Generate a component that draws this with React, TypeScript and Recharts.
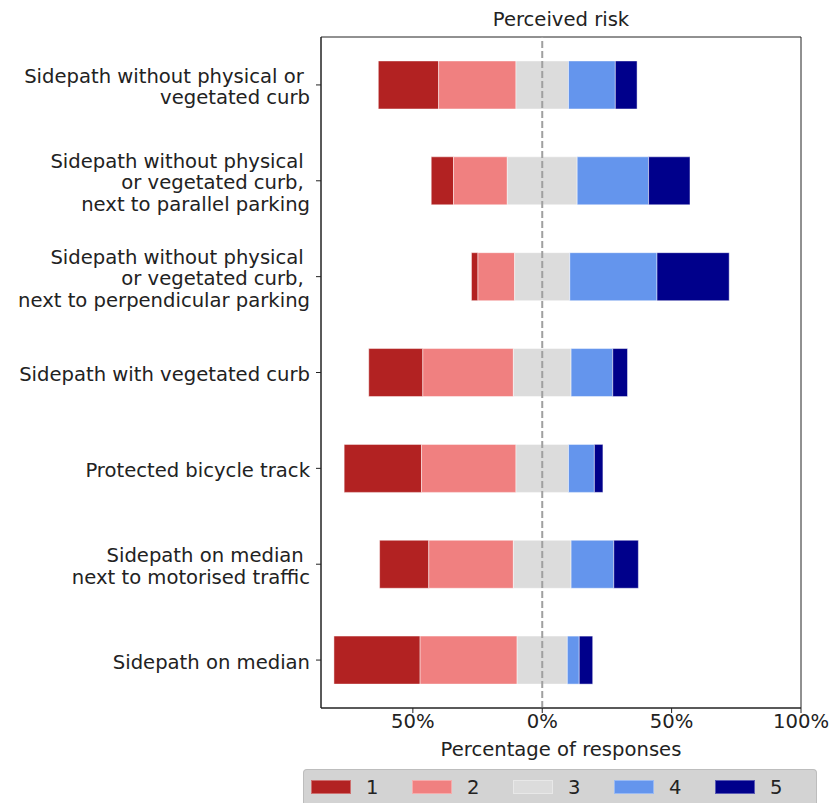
import React from 'react';
import { BarChart, Bar, XAxis, YAxis, ReferenceLine, ReferenceArea, Legend } from 'recharts';

const FONT = '"DejaVu Sans", sans-serif';
const TEXT = '#222222';
const FS = 19.6;

const categories = [
  'Sidepath without physical or \nvegetated curb',
  'Sidepath without physical \nor vegetated curb, \nnext to parallel parking',
  'Sidepath without physical \nor vegetated curb, \nnext to perpendicular parking',
  'Sidepath with vegetated curb',
  'Protected bicycle track',
  'Sidepath on median \nnext to motorised traffic',
  'Sidepath on median',
];

// share of responses per risk level (percent)
const risk1 = [23.3, 8.6, 2.5, 20.9, 29.9, 19.0, 33.3];
const risk2 = [29.9, 20.8, 14.2, 35.0, 36.5, 32.7, 37.5];
const risk3 = [20.3, 27.0, 21.3, 22.3, 20.3, 22.3, 19.4];
const risk4 = [18.1, 27.6, 33.7, 16.1, 10.0, 16.5, 4.6];
const risk5 = [8.4, 16.0, 27.9, 5.7, 3.3, 9.5, 5.2];

const levels = ['1', '2', '3', '4', '5'];
const levelColors = ['#b22222', '#f08080', '#dcdcdc', '#6495ed', '#00008b'];

const xTicks = [-50, 0, 50, 100];
const xDomain = [-85.5, 100];

// neutral answers are split around zero, so each row starts at -(1 + 2 + 3/2)
const rows = categories.map((name, i) => ({
  name,
  offset: -(risk1[i] + risk2[i] + risk3[i] / 2),
  l1: risk1[i],
  l2: risk2[i],
  l3: risk3[i],
  l4: risk4[i],
  l5: risk5[i],
}));

const CategoryTick = (props: any) => {
  const { x, y, payload } = props;
  const lines: string[] = String(payload.value).split('\n');
  const lh = 21.6;
  const first = y + 2 - ((lines.length - 1) * lh) / 2;
  return (
    <text
      x={x}
      y={first}
      textAnchor="end"
      fontSize={FS}
      fontFamily={FONT}
      fill={TEXT}
      style={{ whiteSpace: 'pre' }}
    >
      {lines.map((line, i) => (
        <tspan key={i} x={x} y={first + i * lh} dominantBaseline="central">
          {line}
        </tspan>
      ))}
    </text>
  );
};

const LegendBox = (props: any) => {
  const items = (props.payload || []).filter((p: any) => p.type !== 'none');
  return (
    <div
      style={{
        width: 514,
        height: 34,
        boxSizing: 'border-box',
        background: '#d3d3d3',
        border: '1px solid #bdbdbd',
        borderBottom: 'none',
        borderRadius: '4px 4px 0 0',
        display: 'flex',
        paddingTop: 9,
        paddingLeft: 7,
        fontFamily: FONT,
        fontSize: FS,
        color: TEXT,
      }}
    >
      {items.map((it: any) => (
        <div key={it.value} style={{ width: 107.2, display: 'flex', alignItems: 'flex-start' }}>
          <div
            style={{
              width: 40,
              height: 14,
              marginTop: 1,
              background: it.color,
              boxSizing: 'border-box',
              border: '1px solid rgba(255,255,255,0.35)',
            }}
          />
          <span style={{ marginLeft: 15, lineHeight: '17px' }}>{it.value}</span>
        </div>
      ))}
    </div>
  );
};

export default function App() {
  return (
    <div style={{ position: 'absolute', left: 0, top: 0, width: 830, height: 803, background: '#fff' }}>
      <div
        style={{
          position: 'absolute',
          left: 321,
          width: 480,
          top: 9,
          textAlign: 'center',
          fontFamily: FONT,
          fontSize: FS,
          color: TEXT,
          lineHeight: '22px',
        }}
      >
        Perceived risk
      </div>
      <BarChart
        width={830}
        height={803}
        data={rows}
        layout="vertical"
        margin={{ top: 37, right: 29, left: 0, bottom: 0 }}
        barCategoryGap="25%"
      >
        <XAxis
          type="number"
          domain={xDomain}
          ticks={xTicks}
          allowDataOverflow
          height={61}
          tickSize={5}
          tickMargin={1}
          tickFormatter={(v: number) => `${Math.abs(v)}%`}
          tick={{ fontSize: FS, fontFamily: FONT, fill: TEXT }}
          axisLine={{ stroke: TEXT }}
          tickLine={{ stroke: TEXT }}
          label={{
            value: 'Percentage of responses',
            position: 'insideBottom',
            offset: 13,
            fontSize: FS,
            fontFamily: FONT,
            fill: TEXT,
          }}
        />
        <YAxis
          type="category"
          dataKey="name"
          width={321}
          tickSize={5}
          tickMargin={6}
          interval={0}
          tick={<CategoryTick />}
          axisLine={{ stroke: TEXT }}
          tickLine={{ stroke: TEXT }}
        />
        <ReferenceLine x={0} stroke="#a0a0a0" strokeWidth={2} strokeDasharray="7 3" />
        <Bar
          dataKey="offset"
          stackId="risk"
          fill="transparent"
          legendType="none"
          isAnimationActive={false}
        />
        {levels.map((lv, i) => (
          <Bar
            key={lv}
            name={lv}
            dataKey={`l${lv}`}
            stackId="risk"
            fill={levelColors[i]}
            stroke="#ffffff"
            strokeOpacity={0.45}
            strokeWidth={1}
            isAnimationActive={false}
          />
        ))}
        <ReferenceArea x1={xDomain[0]} x2={xDomain[1]} fill="none" stroke={TEXT} strokeWidth={1} />
        <Legend
          verticalAlign="bottom"
          content={<LegendBox />}
          wrapperStyle={{ left: 303, width: 514 }}
        />
      </BarChart>
    </div>
  );
}
